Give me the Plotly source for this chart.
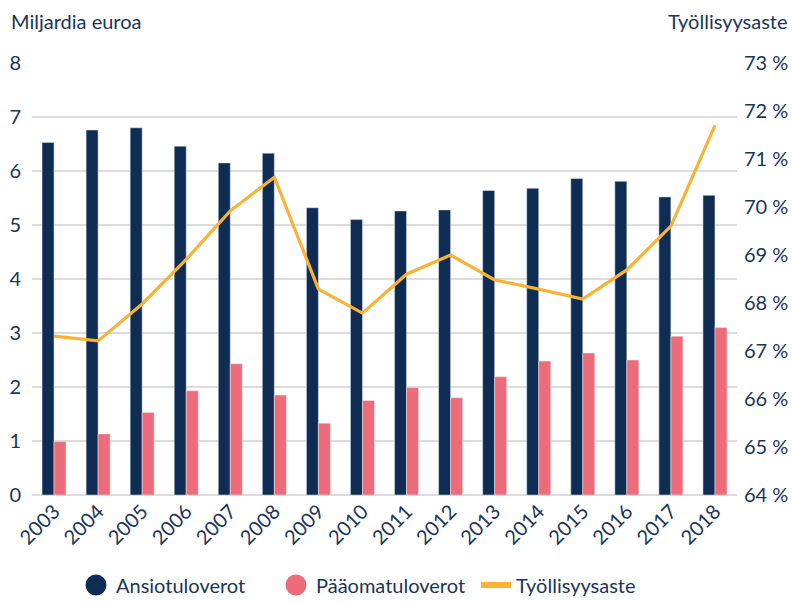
import plotly.graph_objects as go

years = [str(y) for y in range(2003, 2019)]
ansiotuloverot = [6.53, 6.76, 6.80, 6.46, 6.15, 6.33, 5.32, 5.10, 5.26, 5.28, 5.64, 5.68, 5.86, 5.81, 5.52, 5.55]
paaomatuloverot = [0.99, 1.13, 1.53, 1.93, 2.43, 1.85, 1.33, 1.75, 1.99, 1.80, 2.19, 2.48, 2.63, 2.50, 2.94, 3.10]
tyollisyysaste = [67.31, 67.21, 67.98, 68.91, 69.92, 70.62, 68.29, 67.79, 68.60, 69.00, 68.48, 68.29, 68.08, 68.69, 69.60, 71.70]

left_ticks = [0, 1, 2, 3, 4, 5, 6, 7, 8]
right_ticks = [64, 65, 66, 67, 68, 69, 70, 71, 72, 73]
right_labels = [f"{v} %" for v in right_ticks]

NAVY = "#0f2d52"
PINK = "#ee6c79"
ORANGE = "#f8b336"
TEXT = "#1a3557"
FONT = "Lato"
FS = 20

fig = go.Figure()
fig.add_trace(go.Bar(x=years, y=ansiotuloverot, name="Ansiotuloverot", marker_color=NAVY,
                     showlegend=False))
fig.add_trace(go.Bar(x=years, y=paaomatuloverot, name="Pääomatuloverot", marker_color=PINK,
                     showlegend=False))
fig.add_trace(go.Scatter(x=years, y=tyollisyysaste, name="Työllisyysaste", yaxis="y2",
                         mode="lines", line=dict(color=ORANGE, width=3.2), showlegend=False))

# legend entries
fig.add_trace(go.Scatter(x=[None], y=[None], name="Ansiotuloverot", mode="markers",
                         marker=dict(symbol="circle", size=16, color=NAVY,
                                     line=dict(color=NAVY, width=5))))
fig.add_trace(go.Scatter(x=[None], y=[None], name="Pääomatuloverot", mode="markers",
                         marker=dict(symbol="circle", size=16, color=PINK,
                                     line=dict(color=PINK, width=5))))
fig.add_trace(go.Scatter(x=[None], y=[None], name="Työllisyysaste", mode="lines",
                         line=dict(color=ORANGE, width=6)))

title_y = 1 + (63 - 21) / 432

fig.update_layout(
    width=793, height=602,
    margin=dict(l=32, r=56, t=63, b=107, autoexpand=False),
    paper_bgcolor="white", plot_bgcolor="white",
    font=dict(family=FONT, color=TEXT, size=FS),
    barmode="group", bargap=0.455, bargroupgap=0,
    xaxis=dict(type="category", tickangle=-45, showgrid=False, ticks="", automargin=False,
               tickfont=dict(size=FS, color=TEXT), showline=False),
    yaxis=dict(range=[0, 8], tickvals=left_ticks, showgrid=True, gridcolor="#dcdcdc",
               gridwidth=1.5, zeroline=True, zerolinecolor="#dcdcdc", zerolinewidth=1.5,
               ticks="", ticklabelstandoff=10, automargin=False,
               tickfont=dict(size=FS, color=TEXT)),
    yaxis2=dict(range=[64, 73], tickvals=right_ticks, ticktext=right_labels, overlaying="y",
                side="right", showgrid=False, zeroline=False, ticks="", ticklabelstandoff=6,
                automargin=False, tickfont=dict(size=FS, color=TEXT)),
    legend=dict(orientation="h", xref="container", yref="container", x=(98 - 22) / 793,
                y=1 - 585 / 602, xanchor="left", yanchor="middle",
                font=dict(size=FS, color=TEXT), itemsizing="trace",
                entrywidth=155, entrywidthmode="pixels"),
    annotations=[
        dict(text="Miljardia euroa", xref="paper", yref="paper", x=0, y=title_y,
             xanchor="left", yanchor="middle", showarrow=False, xshift=-23,
             font=dict(size=FS, color=TEXT)),
        dict(text="Työllisyysaste", xref="paper", yref="paper", x=1, y=title_y,
             xanchor="right", yanchor="middle", showarrow=False, xshift=53,
             font=dict(size=FS, color=TEXT)),
    ],
)

fig.write_html("out.html", config={"displayModeBar": False},
               post_script="document.body.style.margin='0';")
